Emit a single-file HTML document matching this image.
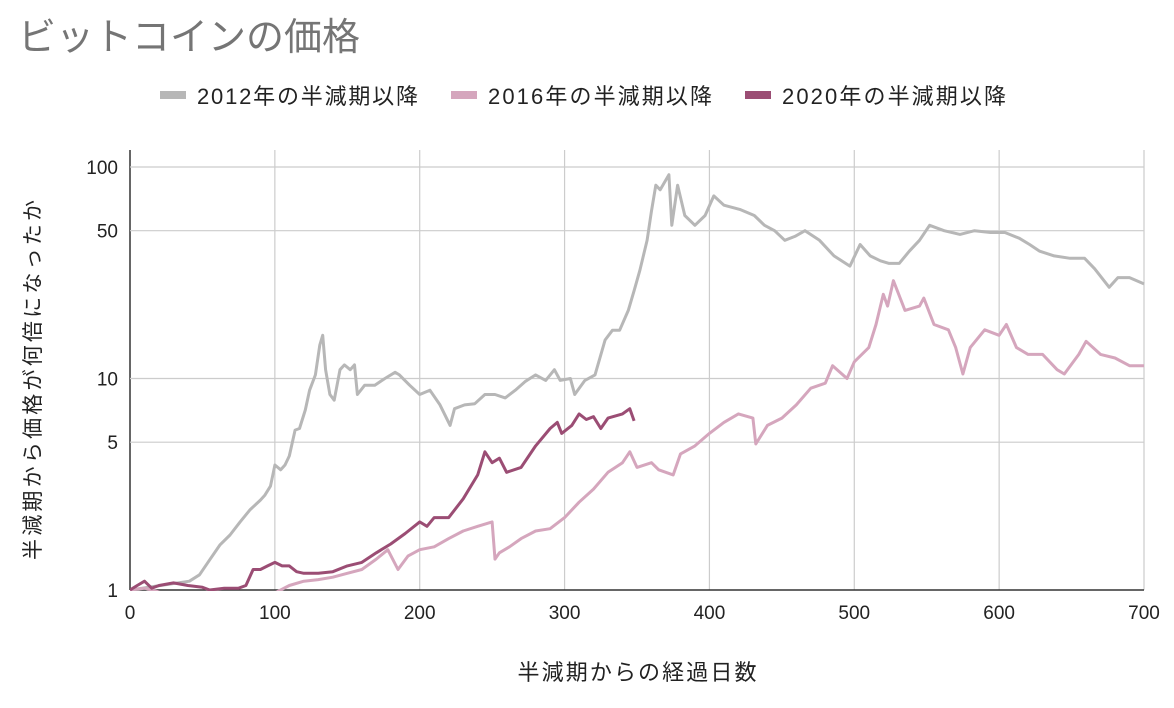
<!DOCTYPE html>
<html><head><meta charset="utf-8"><style>
body{margin:0;background:#fff;}
svg{display:block;font-family:"Liberation Sans","Noto Sans CJK JP",sans-serif;}
</style></head><body>
<svg id="c" width="1174" height="708">
<text x="18" y="50" font-size="38" fill="#757575">ビットコインの価格</text>
<g>
<g><rect x="160" y="91" width="26" height="8" fill="#b7b7b7"/><text x="197" y="104" font-size="22" fill="#222" textLength="221">2012年の半減期以降</text></g>
<g><rect x="451" y="91" width="26" height="8" fill="#d5a6bd"/><text x="488" y="104" font-size="22" fill="#222" textLength="224">2016年の半減期以降</text></g>
<g><rect x="745" y="91" width="26" height="8" fill="#9b4d74"/><text x="782" y="104" font-size="22" fill="#222" textLength="224">2020年の半減期以降</text></g>
</g>
<g id="grid"></g>
<g id="ticks"></g>
<defs><clipPath id="clip"><rect x="130" y="150" width="1015" height="441"/></clipPath></defs>
<g id="lines" clip-path="url(#clip)"></g>
<text x="0" y="0" font-size="21" fill="#222" transform="translate(40,380) rotate(-90)" text-anchor="middle" textLength="360">半減期から価格が何倍になったか</text>
<text x="637" y="680" font-size="22" fill="#222" text-anchor="middle" textLength="239">半減期からの経過日数</text>
</svg>
<script>
const xTicks=[0,100,200,300,400,500,600,700];
const yTicks=[1,5,10,50,100];
const days2012=[0,21,41,48,55,62,69,76,83,90,93,97,100,104,107,110,114,117,121,124,128,131,133,135,138,141,145,148,152,155,157,162,169,176,183,186,193,200,207,214,221,224,231,238,245,252,259,266,273,280,287,293,297,304,307,314,321,328,333,338,344,348,352,357,360,363,366,372,374,378,383,390,397,403,410,421,431,438,445,452,459,466,476,486,497,504,511,518,524,531,538,545,552,562,573,583,594,604,614,621,628,638,649,659,666,676,682,690,700];
const vals2012=[1,1.05,1.1,1.18,1.39,1.63,1.82,2.1,2.4,2.66,2.8,3.1,3.9,3.7,3.9,4.3,5.7,5.8,7.1,8.8,10.4,14.4,16,11,8.4,7.9,11,11.6,11,11.6,8.4,9.3,9.3,10,10.7,10.4,9.3,8.4,8.8,7.5,6.0,7.2,7.5,7.6,8.4,8.4,8.1,8.8,9.7,10.4,9.8,11,9.8,10,8.4,9.8,10.4,15.2,16.9,16.9,21,26,32.5,45,62,82,78,92,53,82,59,53,59,73,66,63,59,53,50,45,47,50,45,38,34,43,38,36,35,35,40,45,53,50,48,50,49,49,46,43,40,38,37,37,33,27,30,30,28];
const days2016=[0,10,20,30,60,90,104,110,120,130,140,150,160,170,178,185,192,200,210,220,230,240,250,252,255,262,270,280,290,300,310,320,330,340,345,350,360,365,375,380,390,400,410,420,430,432,440,450,460,470,480,485,495,500,510,515,520,523,527,535,545,548,555,565,570,575,580,590,600,605,612,620,630,640,645,655,660,670,680,690,700];
const vals2016=[1,1.02,0.98,0.9,0.85,0.9,1,1.05,1.1,1.12,1.15,1.2,1.25,1.4,1.55,1.25,1.45,1.55,1.6,1.75,1.9,2.0,2.1,1.4,1.5,1.6,1.75,1.9,1.95,2.2,2.6,3.0,3.6,4.0,4.5,3.8,4.0,3.7,3.5,4.4,4.8,5.5,6.2,6.8,6.5,4.9,6.0,6.5,7.5,9.0,9.5,11.5,10,12,14,18,25,22,29,21,22,24,18,17,14,10.5,14,17,16,18,14,13,13,11,10.5,13,15,13,12.5,11.5,11.5];
const days2020=[0,5,10,15,20,30,40,50,55,65,75,80,85,90,95,100,105,110,115,120,130,140,150,160,170,180,190,200,205,210,220,230,240,245,250,255,260,270,280,290,295,298,305,310,315,320,325,330,340,345,348];
const vals2020=[1,1.05,1.1,1.02,1.05,1.08,1.05,1.03,1.0,1.02,1.02,1.05,1.25,1.25,1.3,1.35,1.3,1.3,1.22,1.2,1.2,1.22,1.3,1.35,1.5,1.65,1.85,2.1,2.0,2.2,2.2,2.7,3.5,4.5,4.0,4.2,3.6,3.8,4.8,5.8,6.2,5.5,6.0,6.8,6.4,6.6,5.8,6.5,6.8,7.2,6.3];
const X0=130,X1=1144,Y1=590,Y100=167;
const xs=d=>X0+(X1-X0)*d/700;
const ys=v=>Y1-(Y1-Y100)*Math.log10(v)/2;
const NS="http://www.w3.org/2000/svg";
const grid=document.getElementById('grid'),ticks=document.getElementById('ticks'),lines=document.getElementById('lines');
function mk(t,a,p){const e=document.createElementNS(NS,t);for(const k in a)e.setAttribute(k,a[k]);p.appendChild(e);return e;}
xTicks.forEach(d=>{
 const l=mk('line',{x1:xs(d),x2:xs(d),y1:150,y2:Y1,stroke:d===0?'#333':'#ccc','stroke-width':d===0?1.5:1.2},grid);
 
 
 const t=mk('text',{x:xs(d),y:619,'font-size':19,'text-anchor':'middle',fill:'#222'},ticks);t.textContent=d;
 
 
});
yTicks.forEach(v=>{
 const l=mk('line',{x1:X0,x2:X1,y1:ys(v),y2:ys(v),stroke:v===1?'#333':'#ccc','stroke-width':v===1?1.5:1.2},grid);
 
 
 const t=mk('text',{x:118,y:ys(v)+7,'font-size':19,'text-anchor':'end',fill:'#222'},ticks);t.textContent=v;
 
 
});
function series(ds,vs,col,name){
 const d=ds.map((x,i)=>(i?'L':'M')+xs(x).toFixed(1)+','+ys(vs[i]).toFixed(1)).join('');
 const p=mk('path',{d:d,fill:'none',stroke:col,'stroke-width':3,'stroke-linejoin':'round'},lines);
 
 
}
series(days2012,vals2012,'#b7b7b7','line-2012');
series(days2016,vals2016,'#d5a6bd','line-2016');
series(days2020,vals2020,'#9b4d74','line-2020');
</script>
</body></html>
